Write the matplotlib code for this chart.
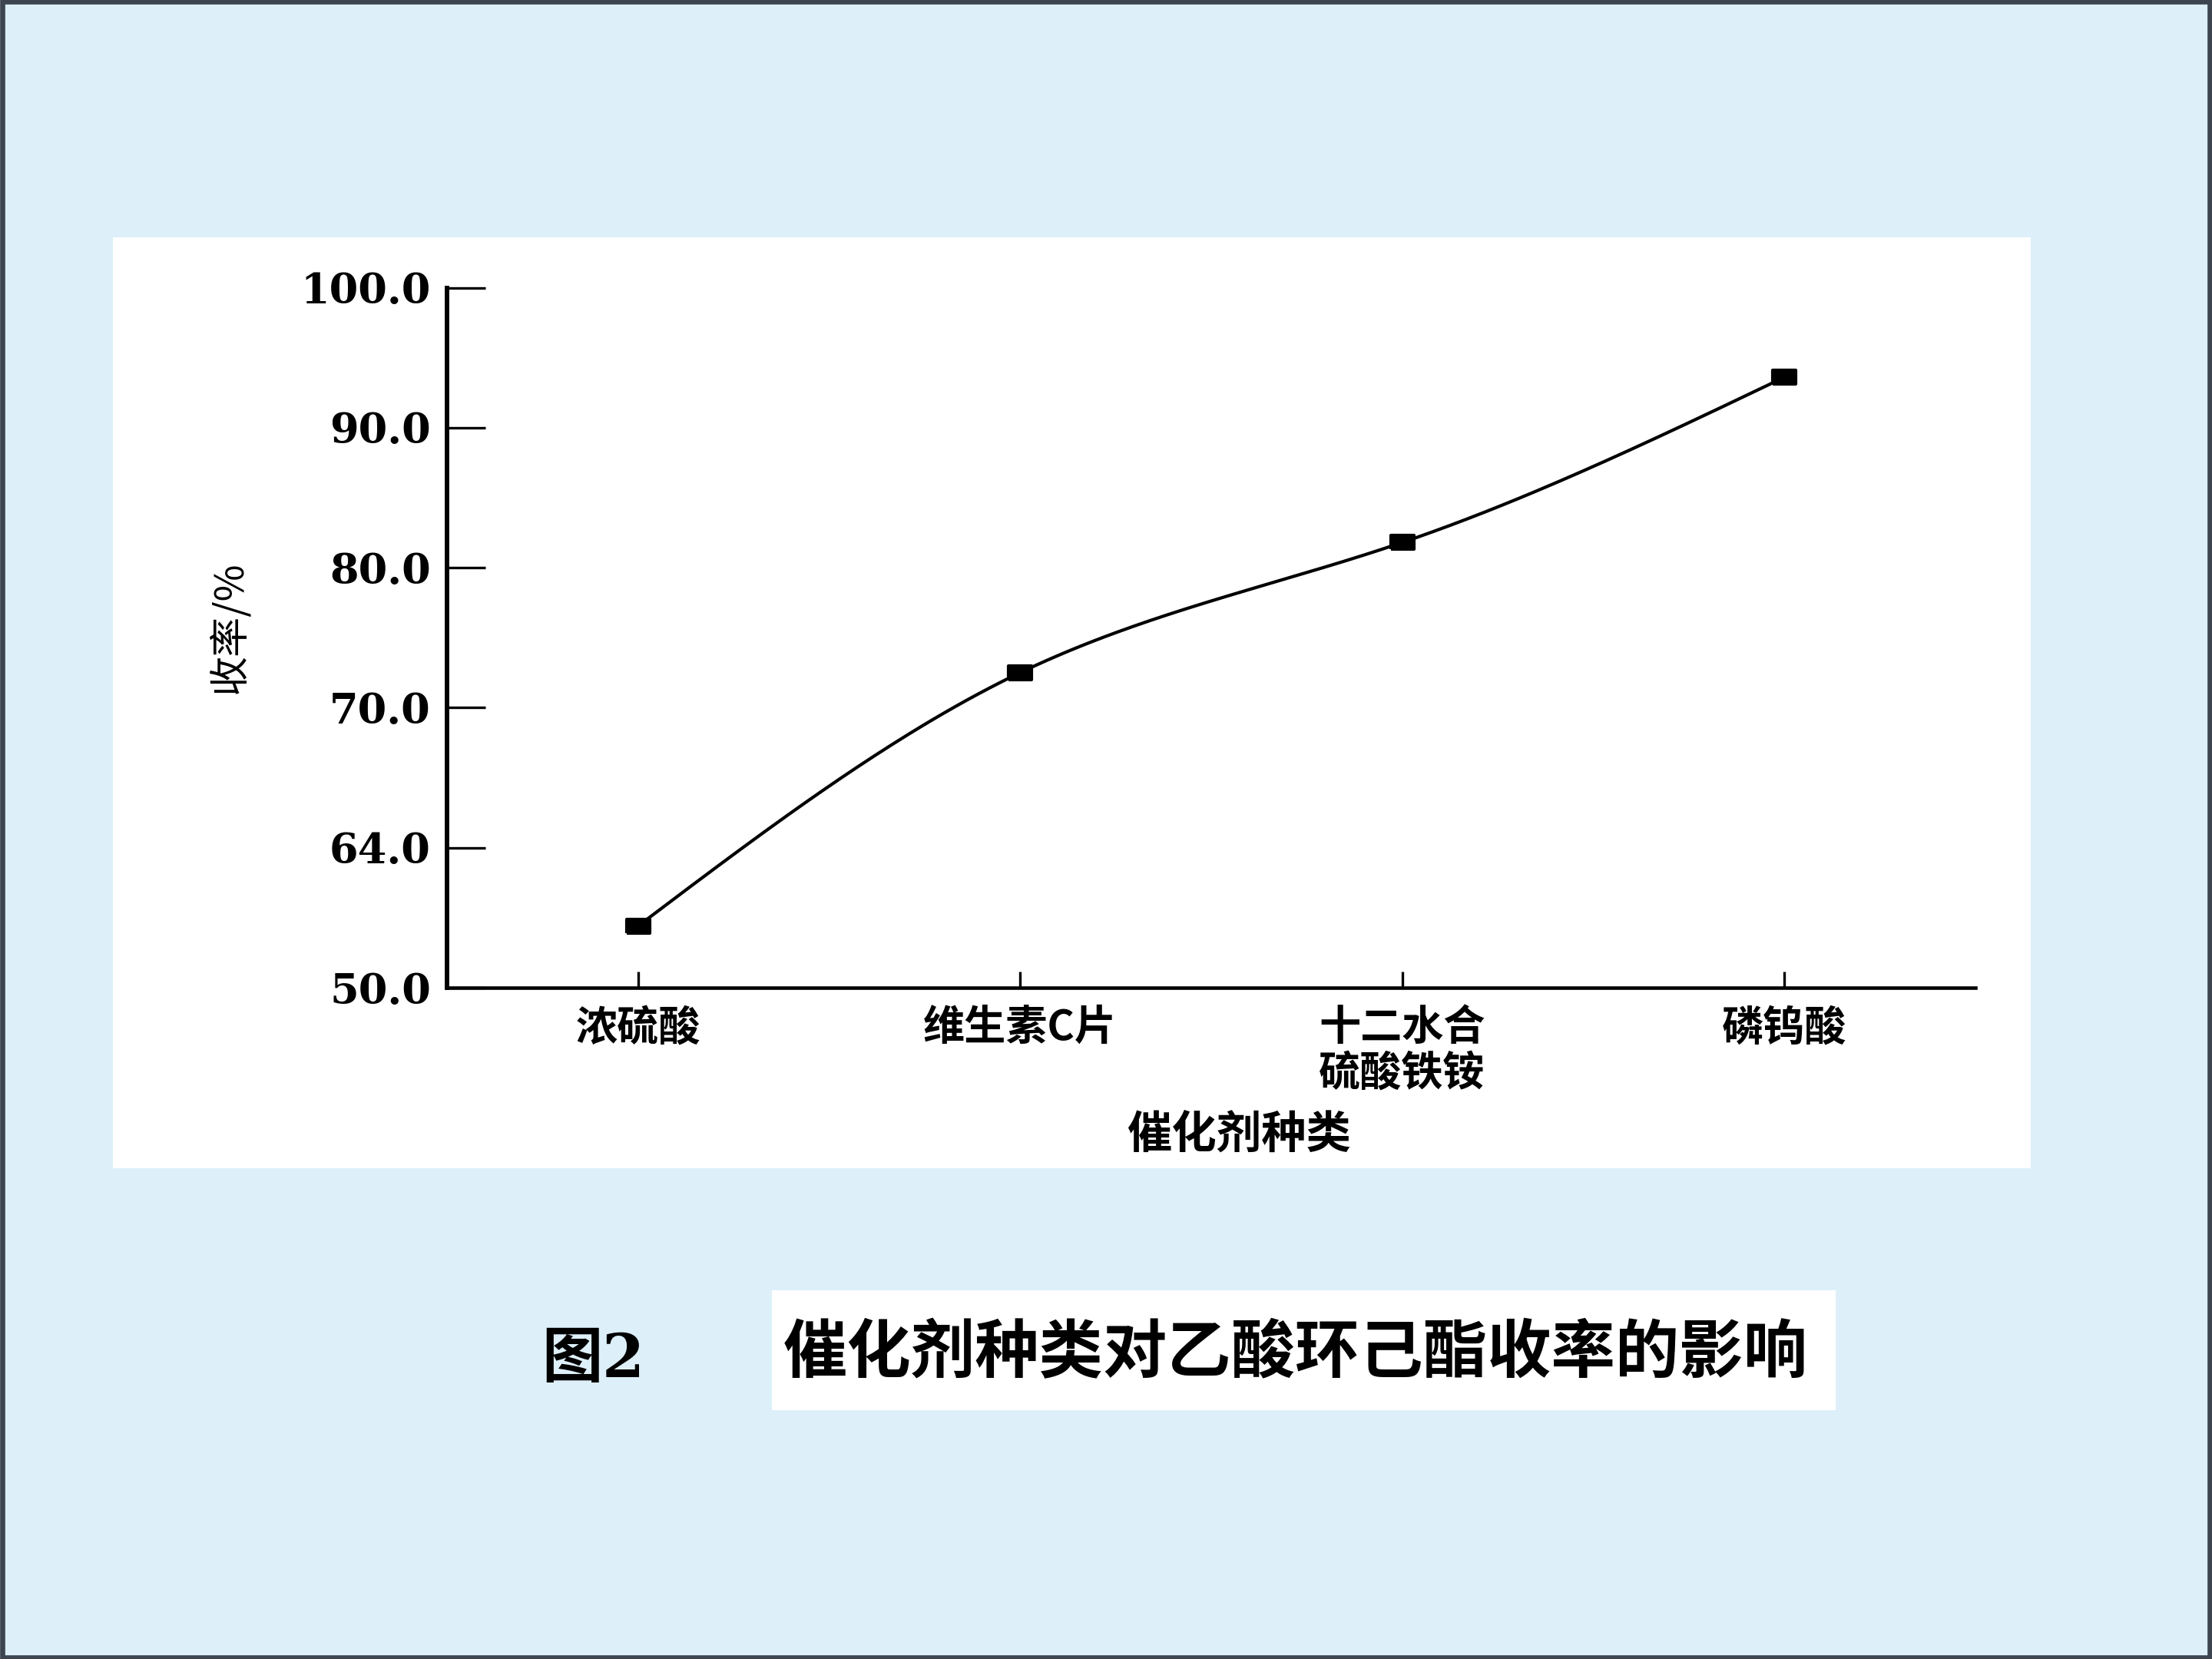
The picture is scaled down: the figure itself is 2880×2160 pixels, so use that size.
import numpy as np
import matplotlib
matplotlib.use("Agg")
import matplotlib.pyplot as plt
from matplotlib.patches import Rectangle
from matplotlib.path import Path

# data
catalysts = ['浓硫酸', '维生素C片', '十二水合\n硫酸铁铵', '磷钨酸']
yield_pct = [54.4, 72.5, 81.8, 93.6]
ytick_pos = [50, 60, 70, 80, 90, 100]
ytick_labels = ['50.0', '64.0', '70.0', '80.0', '90.0', '100.0']

CJK = ['Noto Sans CJK SC', 'DejaVu Sans']
plt.rcParams['font.family'] = CJK


def natural_spline(x, y, n=200):
    # smooth curve through the measured points (for the drawn line only)
    x = np.asarray(x, float)
    y = np.asarray(y, float)
    k = len(x)
    h = np.diff(x)
    A = np.zeros((k, k))
    b = np.zeros(k)
    A[0, 0] = A[-1, -1] = 1
    for i in range(1, k - 1):
        A[i, i - 1] = h[i - 1]
        A[i, i] = 2 * (h[i - 1] + h[i])
        A[i, i + 1] = h[i]
        b[i] = 6 * ((y[i + 1] - y[i]) / h[i] - (y[i] - y[i - 1]) / h[i - 1])
    M = np.linalg.solve(A, b)
    xs = np.linspace(x[0], x[-1], n)
    ys = np.empty_like(xs)
    for j, t in enumerate(xs):
        i = min(np.searchsorted(x, t, side='right') - 1, k - 2)
        a, c = x[i], x[i + 1]
        hi = c - a
        ys[j] = (M[i] * (c - t) ** 3 / (6 * hi) + M[i + 1] * (t - a) ** 3 / (6 * hi)
                 + (y[i] / hi - M[i] * hi / 6) * (c - t)
                 + (y[i + 1] / hi - M[i + 1] * hi / 6) * (t - a))
    return xs, ys


fig = plt.figure(figsize=(9.6, 7.2), dpi=300)
fig.patch.set_facecolor('#ddeff9')

# dark frame and white panels
fig.add_artist(Rectangle((0.001, 0.001), 0.998, 0.998, transform=fig.transFigure,
                         facecolor='none', edgecolor='#3d4650', lw=1.6))
fig.add_artist(Rectangle((0.051, 0.296), 0.867, 0.561, transform=fig.transFigure,
                         facecolor='white', edgecolor='none', zorder=0))
fig.add_artist(Rectangle((0.349, 0.150), 0.481, 0.072, transform=fig.transFigure,
                         facecolor='white', edgecolor='none', zorder=0))

ax = fig.add_axes([0.202, 0.4046, 0.691, 0.422])
ax.set_facecolor('none')

x = np.arange(len(catalysts))
xs, ys = natural_spline(x, yield_pct)
ax.plot(xs, ys, color='black', lw=1.0)

rect = Path([(-1.6, -1), (1.6, -1), (1.6, 1), (-1.6, 1), (-1.6, -1)])
ax.plot(x, yield_pct, linestyle='none', marker=rect, markersize=7,
        color='black')

ax.set_xlim(-0.5, 3.5)
ax.set_ylim(50, 100)
ax.set_xticks(x)
ax.set_xticklabels(catalysts, fontsize=13, fontweight='bold',
                   linespacing=1.1, va='top')
ax.set_yticks(ytick_pos)
ax.set_yticklabels(ytick_labels, fontsize=13, fontweight='bold',
                   family=['DejaVu Serif'])

ax.tick_params(axis='y', direction='in', length=12, width=0.8, pad=5)
ax.tick_params(axis='x', direction='in', length=5, width=0.8, pad=6)
for s in ['top', 'right']:
    ax.spines[s].set_visible(False)
ax.spines['left'].set_linewidth(1.4)
ax.spines['bottom'].set_linewidth(1.1)

fig.text(0.104, 0.622, '收率/%', rotation=90, ha='center', va='center',
         fontsize=12.5)
fig.text(0.560, 0.316, '催化剂种类', ha='center', va='center',
         fontsize=14, fontweight='bold')

fig.text(0.268, 0.180, '图2', ha='center', va='center', fontsize=19,
         fontweight='bold', family=['DejaVu Serif', 'Noto Sans CJK SC'])
fig.text(0.354, 0.184, '催化剂种类对乙酸环己酯收率的影响', ha='left', va='center',
         fontsize=20, fontweight='bold')

fig.savefig('out.png', dpi=300, facecolor=fig.get_facecolor())
